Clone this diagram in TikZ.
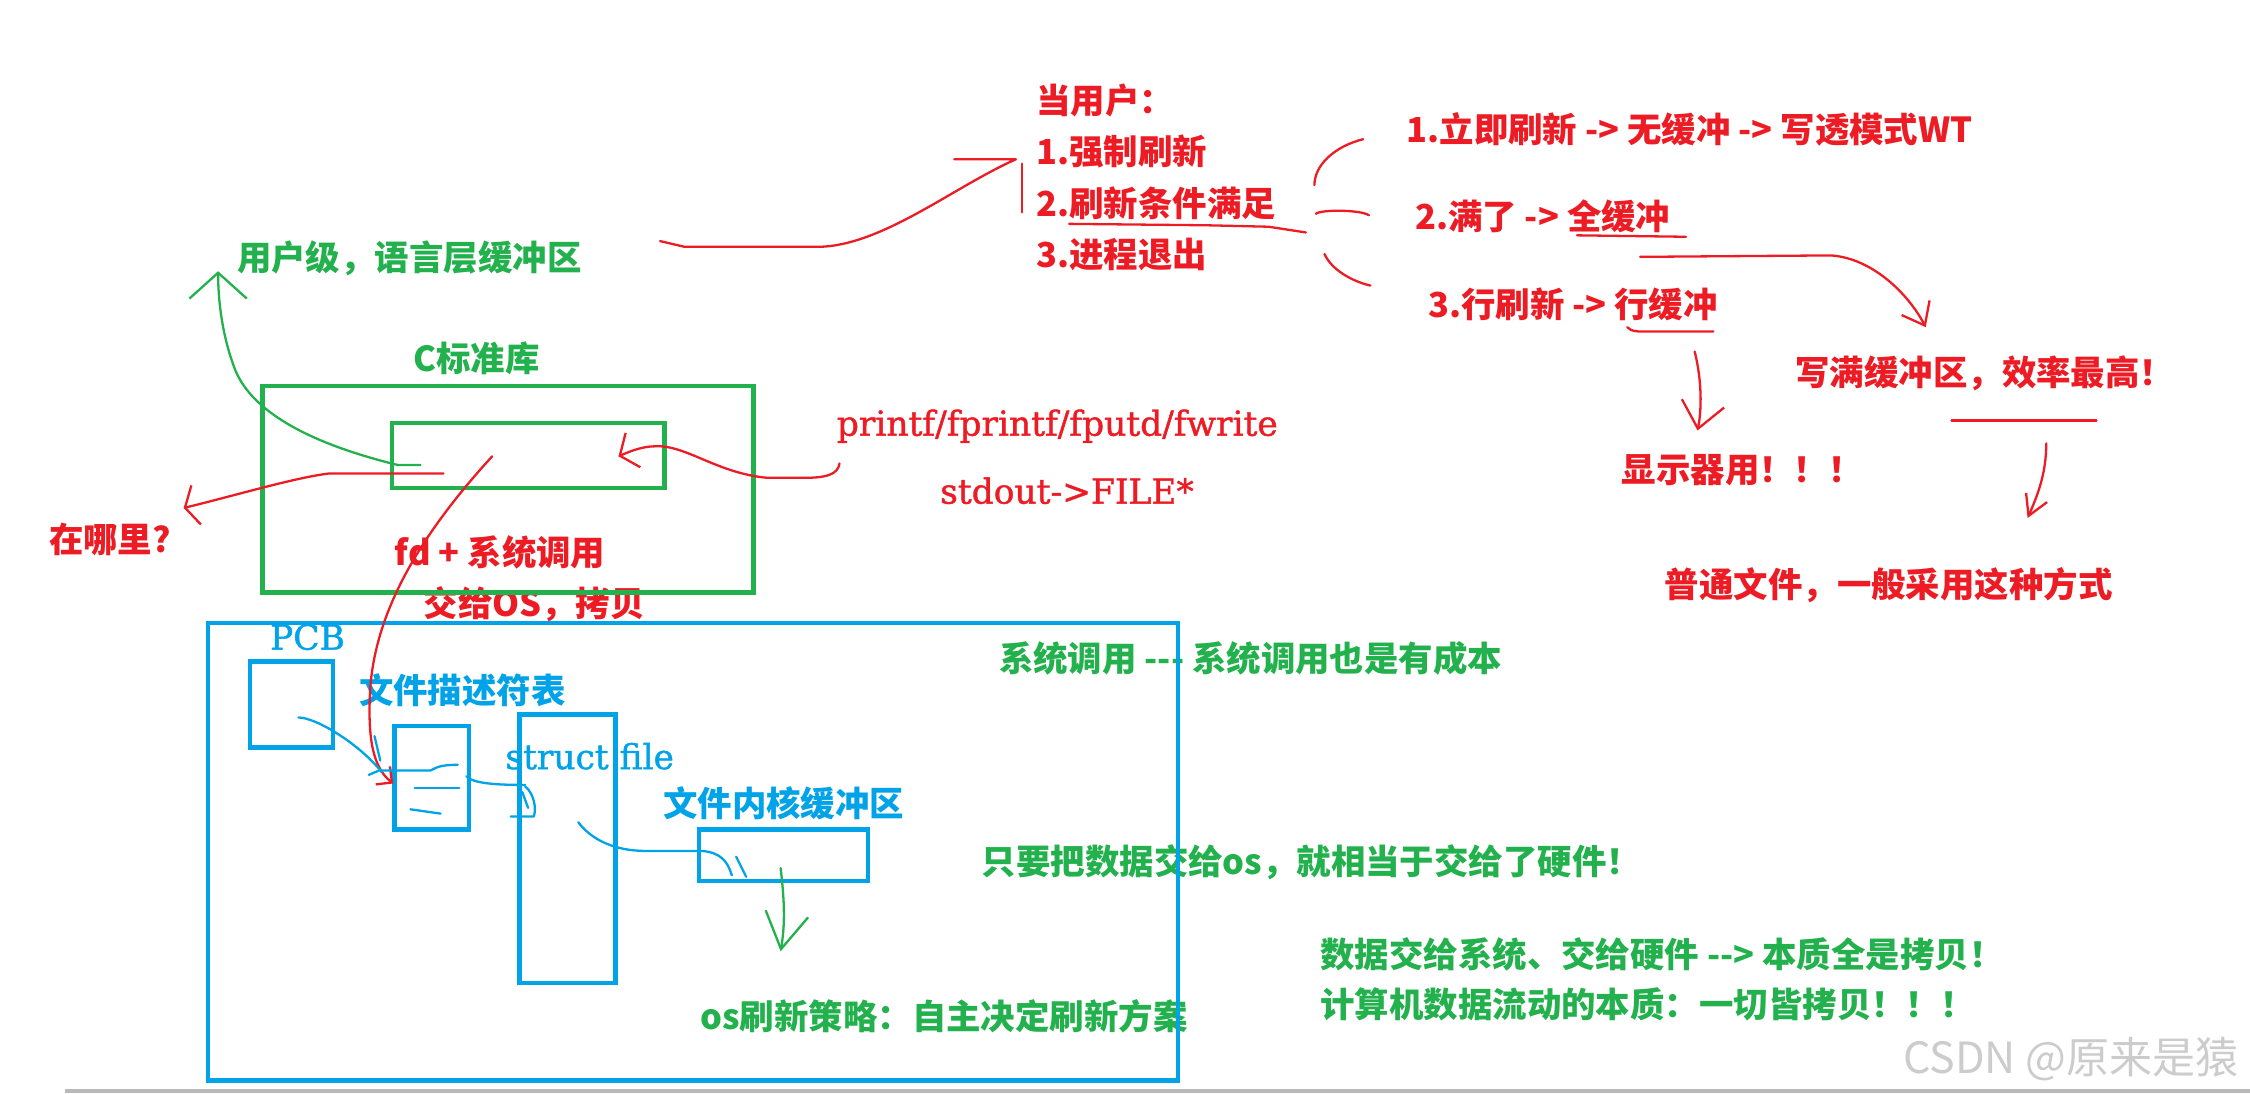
\documentclass[tikz,border=0pt]{standalone}
\usepackage{fontspec}
\usepackage{tikz}
\usetikzlibrary{positioning, calc, arrows.meta}
\newfontfamily\zhfont{Noto Sans CJK SC}
\newfontfamily\codefont{DejaVu Serif}[FakeBold=1.2]
\definecolor{pred}{HTML}{ED1C24}
\definecolor{pgreen}{HTML}{22B14C}
\definecolor{pblue}{HTML}{00A2E8}
\newcommand{\zh}{\zhfont\bfseries\fontsize{24}{28}\selectfont}
\newcommand{\code}{\codefont\fontsize{24}{28}\selectfont}

\begin{document}
\begin{tikzpicture}[
			x=1pt, y=-1pt,
			note/.style={anchor=west, inner sep=0pt, font=\zh},
			codenote/.style={anchor=west, inner sep=0pt, font=\code},
			box/.style={draw, line width=3pt, inner sep=0pt},
			hand/.style={line width=1.6pt, line cap=round, line join=round}
		]
		\useasboundingbox (0,0) rectangle (1568,762);

		% user level / C library
		\node[note, text=pgreen] (userbuf) at (165,180) {用户级，语言层缓冲区};
		\node[note, text=pgreen] (clib) at (288,250) {C标准库};
		\node[codenote, text=pred] (funcs) at (583,297) {printf/fprintf/fputd/fwrite};
		\node[codenote, text=pred] (stdout) at (655,342) {stdout->FILE*};
		\node[note, text=pred] (where) at (34,376) {在哪里?};
		\node[note, text=pred] (fdcall) at (275,385) {fd + 系统调用};
		\node[note, text=pred] (toos) at (295,421) {交给OS，拷贝};

		% flush conditions
		\node[note, text=pred] (when) at (722,70) {当用户：};
		\node[note, text=pred] (force) at (722,105.5) {1.强制刷新};
		\node[note, text=pred] (cond) at (722,141.5) {2.刷新条件满足};
		\node[note, text=pred] (quit) at (722,177.5) {3.进程退出};
		\node[note, text=pred] (nobuf) at (980,90) {1.立即刷新 -> 无缓冲 -> 写透模式WT};
		\node[note, text=pred] (fullbuf) at (986,151) {2.满了 -> 全缓冲};
		\node[note, text=pred] (linebuf) at (995,212) {3.行刷新 -> 行缓冲};
		\node[note, text=pred] (best) at (1251,260) {写满缓冲区，效率最高！};
		\node[note, text=pred] (screen) at (1130,328) {显示器用！！！};
		\node[note, text=pred] (normal) at (1160,408) {普通文件，一般采用这种方式};

		% kernel side
		\node[codenote, text=pblue] (pcbl) at (188,444) {PCB};
		\node[note, text=pblue] (fdl) at (250,481) {文件描述符表};
		\node[codenote, text=pblue] (sfl) at (352,527) {struct file};
		\node[note, text=pblue] (kbl) at (462,560) {文件内核缓冲区};
		\node[note, text=pgreen] (policy) at (488,708) {os刷新策略：自主决定刷新方案};
		\node[note, text=pgreen] (syscost) at (696,459) {系统调用 -\kern0pt-\kern0pt- 系统调用也是有成本};
		\node[note, text=pgreen] (hwnote) at (684,601) {只要把数据交给os，就相当于交给了硬件！};
		\node[note, text=pgreen] (copy1) at (920,665) {数据交给系统、交给硬件 -\kern0pt-> 本质全是拷贝！};
		\node[note, text=pgreen] (copy2) at (920,700) {计算机数据流动的本质：一切皆拷贝！！！};
		\node[anchor=west, inner sep=0pt, text=gray!40, font=\zhfont\fontsize{30}{34}\selectfont] (mark) at (1326,738) {CSDN @原来是猿};

		% boxes
		\node[box, draw=pgreen, minimum width=342pt, minimum height=144pt] (clibbox) at (354,341) {};
		\node[box, draw=pgreen, minimum width=190pt, minimum height=45pt] (stdbuf) at (368,317.5) {};
		\node[box, draw=pblue, minimum width=676pt, minimum height=319pt] (kernel) at (483,593.5) {};
		\node[box, draw=pblue, minimum width=58pt, minimum height=60pt] (pcb) at (203,491) {};
		\node[box, draw=pblue, minimum width=52pt, minimum height=72pt] (fdtab) at (301,542) {};
		\node[box, draw=pblue, minimum width=67pt, minimum height=187pt] (sfile) at (395.5,591.5) {};
		\node[box, draw=pblue, minimum width=118pt, minimum height=36pt] (kbuf) at (546,596) {};

		% free ends
		\coordinate (ubuf0) at (293,324);
		\coordinate (ubuf1) at (152,189);
		\coordinate (where0) at (309,330);
		\coordinate (where1) at (128,354);
		\coordinate (call0) at (585,323);
		\coordinate (call1) at (431,318);
		\coordinate (sys0) at (343,318);
		\coordinate (sys1) at (274,546);
		\coordinate (flush0) at (460,168);
		\coordinate (flush1) at (708,111);
		\coordinate (best0) at (1143,179);
		\coordinate (best1) at (1342,228);
		\coordinate (norm0) at (1426,309);
		\coordinate (norm1) at (1413,361);
		\coordinate (scr0) at (1181,245);
		\coordinate (scr1) at (1183,300);
		\coordinate (pcb0) at (208,500);
		\coordinate (os0) at (544,605);
		\coordinate (os1) at (544,663);

		% red and green strokes round the C library
		\draw[hand, pgreen, -{Straight Barb[length=18pt,width=40pt]}] (ubuf0) -- (277,324) .. controls (228,312) and (178,292) .. (164,258) .. controls (155,235) and (152,210) .. (ubuf1);
		\draw[hand, pred, -{Straight Barb[length=8pt,width=28pt]}] (where0) -- (229,330) .. controls (205,333) and (165,345) .. (where1);
		\draw[hand, pred, -{Straight Barb[length=10pt,width=26pt]}] (call0) .. controls (584,331) and (575,333) .. (560,333) -- (535,333) .. controls (500,330) and (478,310) .. (457,311) .. controls (447,311) and (438,315) .. (call1);
		\draw[hand, pred, -{Straight Barb[length=8pt,width=16pt]}] (sys0) .. controls (300,365) and (262,420) .. (258,480) .. controls (256,515) and (260,535) .. (sys1);

		% flush strokes
		\draw[hand, pred] (flush0) -- (477,172) -- (571,172) .. controls (615,171) and (665,130) .. (flush1) -- (665,111);
		\draw[hand, pred] (712,114) -- (712,148);
		\draw[hand, pred] (745,156) -- (841,157) -- (884,158) -- (910,162);
		\draw[hand, pred] (916,129) .. controls (916,115) and (930,102) .. (950,97);
		\draw[hand, pred] (917,149) .. controls (920,146) and (948,146) .. (954,150);
		\draw[hand, pred] (923,177) .. controls (928,188) and (942,196) .. (955,199);
		\draw[hand, pred] (1099,164) -- (1175,165);
		\draw[hand, pred] (1134,228) .. controls (1137,231) and (1140,231) .. (1145,231) -- (1194,231);
		\draw[hand, pred, -{Straight Barb[length=14pt,width=22pt]}] (best0) -- (1276,178) .. controls (1305,180) and (1330,205) .. (best1);
		\draw[hand, pred] (1360,293) -- (1461,293);
		\draw[hand, pred, -{Straight Barb[length=14pt,width=16pt]}] (norm0) .. controls (1426,330) and (1420,345) .. (norm1);
		\draw[hand, pred, -{Straight Barb[length=18pt,width=30pt]}] (scr0) .. controls (1186,265) and (1186,285) .. (scr1);

		% kernel strokes
		\draw[hand, pblue] (pcb0) .. controls (220,500) and (250,518) .. (266,538);
		\draw[hand, pblue] (261,513) -- (265,530);
		\draw[hand, pblue] (257,540) -- (264,537) -- (300,537) .. controls (304,535) and (306,533) .. (319,533);
		\draw[hand, pblue] (289,549) -- (320,549);
		\draw[hand, pblue] (286,564) -- (307,567);
		\draw[hand, pblue] (325,541) .. controls (330,546) and (345,547) .. (366,547);
		\draw[hand, pblue] (366,548) .. controls (372,553) and (374,563) .. (372,569) -- (356,569);
		\draw[hand, pblue] (364,552) -- (368,563);
		\draw[hand, pblue] (403,573) .. controls (412,585) and (428,593) .. (450,593) -- (489,593) .. controls (502,594) and (507,600) .. (510,610);
		\draw[hand, pblue] (513,597) -- (520,611);
		\draw[hand, pgreen, -{Straight Barb[length=25pt,width=30pt]}] (os0) .. controls (547,630) and (547,645) .. (os1);

		\fill[gray!55] (45,759) rectangle (1568,762);
	\end{tikzpicture}
\end{document}
